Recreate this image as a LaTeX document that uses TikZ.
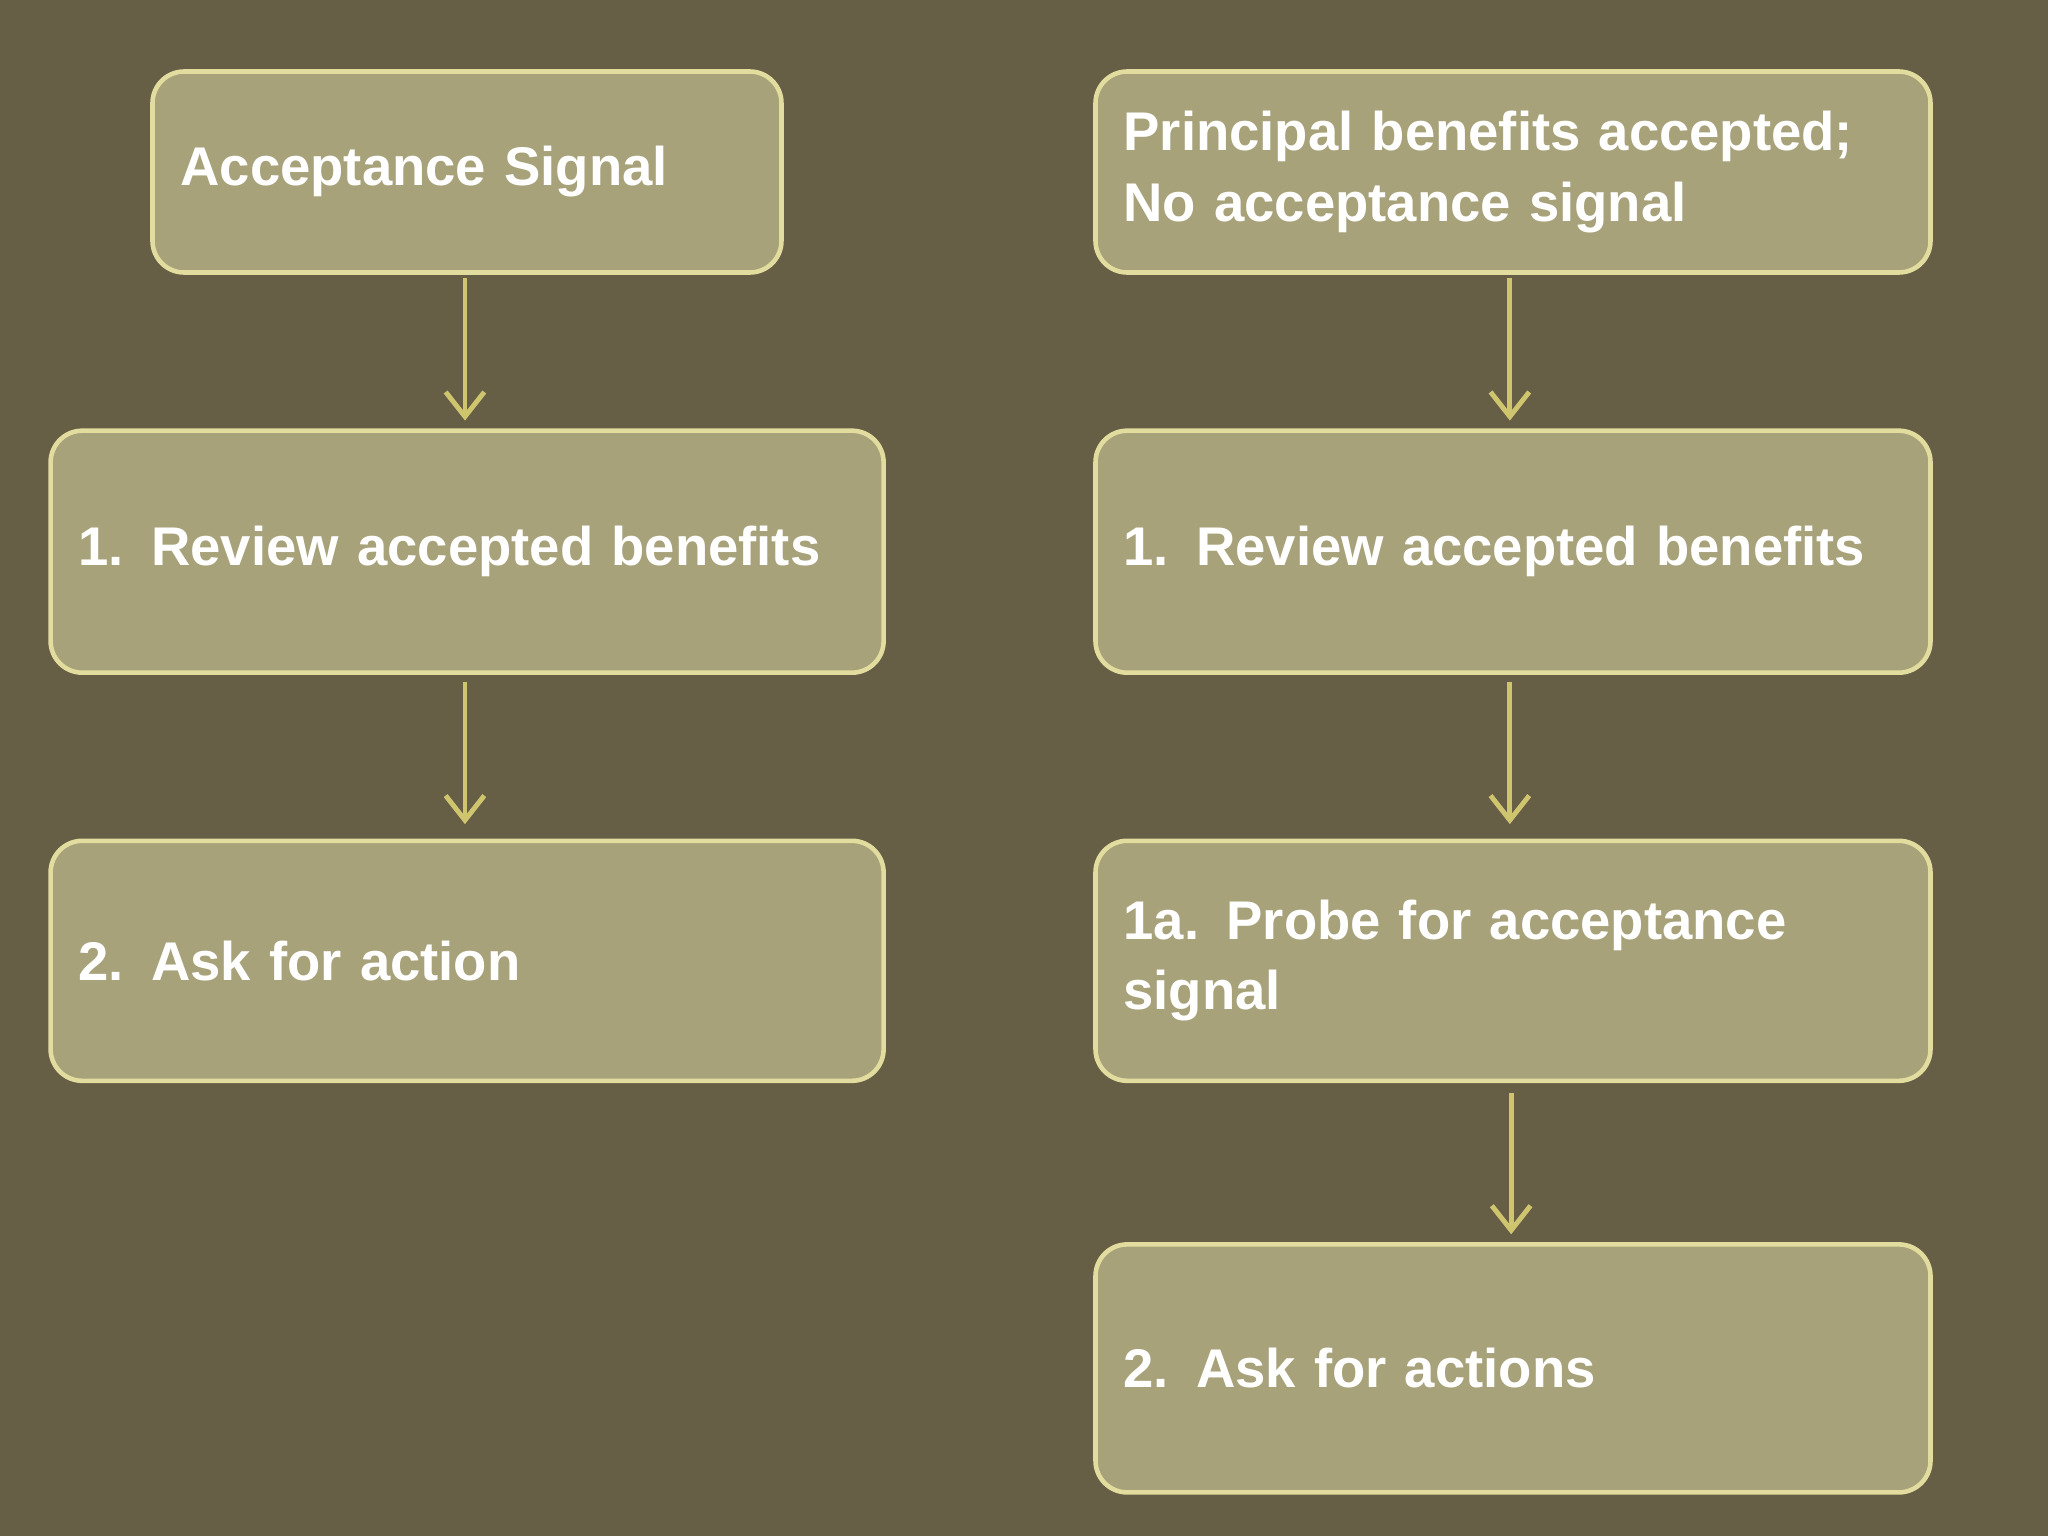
\documentclass[tikz,border=0pt]{standalone}
\usepackage{fontspec}
\setmainfont{Liberation Sans}
\usetikzlibrary{arrows.meta}
\definecolor{bg}{HTML}{665E45}
\definecolor{boxfill}{HTML}{A8A27A}
\definecolor{boxline}{HTML}{E2DD9E}
\definecolor{arr}{HTML}{CFC56E}
\begin{document}
\begin{tikzpicture}[x=0.013061cm,y=-0.013061cm,
  box/.style={draw=boxline,line width=1.3pt,fill=boxfill,rounded corners=9pt,
    text=white,font=\fontsize{15.5}{20}\selectfont\bfseries,align=left,
    inner xsep=0.28cm,inner ysep=0pt,anchor=north west},
  con/.style={draw=arr,line width=1.4pt,-{Straight Barb[length=7pt,width=11pt,line width=1.4pt]}}]
\fill[bg] (0,0) rectangle (1568,1176);
\useasboundingbox (0,0) rectangle (1568,1176);
\node[box,text width=5.73cm,minimum width=6.29cm,minimum height=2.01cm] (l1) at (115,53) {\raisebox{-4pt}{Acceptance Signal}};
\node[box,text width=7.77cm,minimum width=8.33cm,minimum height=2.42cm] (l2) at (37,328) {1. Review accepted benefits};
\node[box,text width=7.77cm,minimum width=8.33cm,minimum height=2.40cm] (l3) at (37,642) {2. Ask for action};
\node[box,text width=7.79cm,minimum width=8.35cm,minimum height=2.01cm] (r1) at (837,53) {Principal benefits accepted;\\No acceptance signal};
\node[box,text width=7.79cm,minimum width=8.35cm,minimum height=2.42cm] (r2) at (837,328) {1. Review accepted benefits};
\node[box,text width=7.79cm,minimum width=8.35cm,minimum height=2.40cm] (r3) at (837,642) {1a. Probe for acceptance\\signal};
\node[box,text width=7.79cm,minimum width=8.35cm,minimum height=2.48cm] (r4) at (837,951) {2. Ask for actions};
\coordinate (a1s) at (356,213); \coordinate (a1e) at (356,322);
\coordinate (a2s) at (356,522); \coordinate (a2e) at (356,631);
\coordinate (b1s) at (1156,213); \coordinate (b1e) at (1156,322);
\coordinate (b2s) at (1156,522); \coordinate (b2e) at (1156,631);
\coordinate (b3s) at (1157,837); \coordinate (b3e) at (1157,945);
\draw[con] (a1s) -- (a1e);
\draw[con] (a2s) -- (a2e);
\draw[con] (b1s) -- (b1e);
\draw[con] (b2s) -- (b2e);
\draw[con] (b3s) -- (b3e);
\end{tikzpicture}
\end{document}
